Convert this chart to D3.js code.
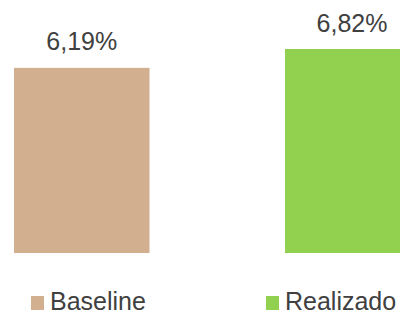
<!DOCTYPE html>
<html>
<head>
<meta charset="utf-8">
<script src="https://cdn.jsdelivr.net/npm/d3@7"></script>
<style>
  body { margin: 0; background: #fff; }
  svg { display: block; font-family: "Liberation Sans", Arial, sans-serif; }
</style>
</head>
<body>
<svg id="chart"></svg>
<script>
const categories = ['Baseline', 'Realizado'];
const values = [6.19, 6.82];
const colors = ['#D2B08F', '#92D050'];

const w = 400, h = 314;

const svg = d3.select('#chart')
  .attr('width', w)
  .attr('height', h);

const xScale = d3.scaleBand()
  .domain(categories)
  .range([14, 420.5])
  .paddingInner(0.5)
  .paddingOuter(0);

const yScale = d3.scaleLinear()
  .domain([0, 6.82])
  .range([253, 49]);

const fmt = v => d3.format('.2f')(v).replace('.', ',') + '%';

svg.selectAll('rect.bar')
  .data(values)
  .enter()
  .append('rect')
  .attr('class', 'bar')
  .attr('x', (d, i) => xScale(categories[i]))
  .attr('y', d => yScale(d))
  .attr('width', xScale.bandwidth())
  .attr('height', d => yScale(0) - yScale(d))
  .attr('fill', (d, i) => colors[i]);

// value labels
svg.selectAll('text.val')
  .data(values)
  .enter()
  .append('text')
  .attr('class', 'val')
  .attr('x', (d, i) => i === 0 ? xScale(categories[i]) + xScale.bandwidth() / 2 : 352)
  .attr('y', d => yScale(d) - 17.5)
  .attr('text-anchor', 'middle')
  .attr('font-size', 25)
  .attr('fill', '#404040')
  .text(d => fmt(d));

// legend
const legendX = [31, 266];
const legend = svg.selectAll('g.legend')
  .data(categories)
  .enter()
  .append('g')
  .attr('class', 'legend')
  .attr('transform', (d, i) => `translate(${legendX[i]}, 296)`);

legend.append('rect')
  .attr('width', 13)
  .attr('height', 14)
  .attr('fill', (d, i) => colors[i]);

legend.append('text')
  .attr('x', 19)
  .attr('y', 14)
  .attr('font-size', 25)
  .attr('fill', '#404040')
  .text(d => d);
</script>
</body>
</html>
